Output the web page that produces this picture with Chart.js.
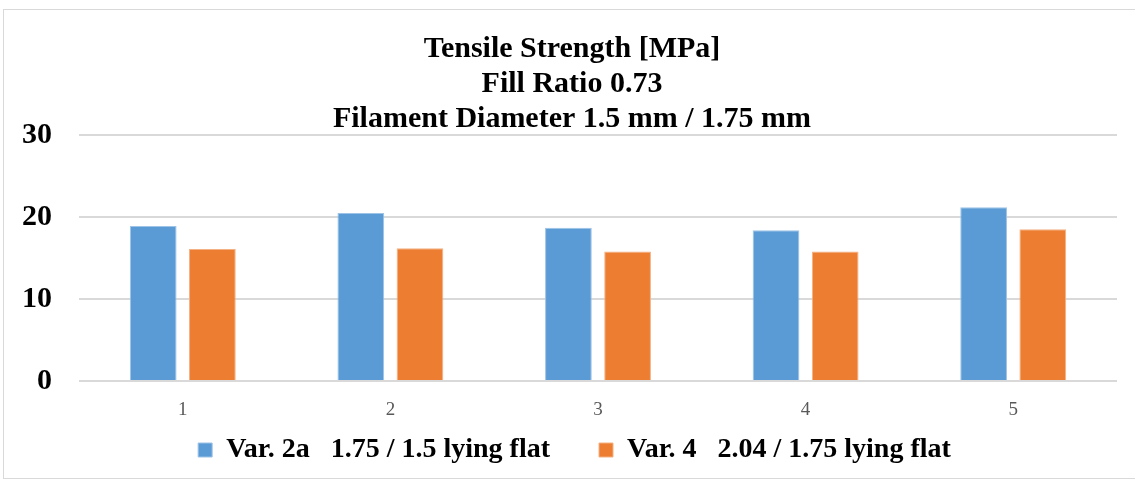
<!DOCTYPE html>
<html>
<head>
<meta charset="utf-8">
<script src="https://cdn.jsdelivr.net/npm/chart.js@4"></script>
<style>
  html, body { margin: 0; padding: 0; background: #fff; }
  #frame { position: absolute; left: 3px; top: 9px; width: 1140px; height: 470px; border: 1px solid #d9d9d9; box-sizing: border-box; }
  #wrap { position: absolute; left: 0; top: 0; width: 1131px; height: 468px; }
</style>
</head>
<body>
<div id="frame"><div id="wrap"><canvas id="tensileChart"></canvas></div></div>
<script>
const categories = ['1', '2', '3', '4', '5'];
const var2aValues = [18.9, 20.5, 18.7, 18.4, 21.2];
const var4Values = [16.1, 16.2, 15.8, 15.8, 18.5];
const yTicks = [0, 10, 20, 30];
const titleLines = ['Tensile Strength [MPa]', 'Fill Ratio 0.73', 'Filament Diameter 1.5 mm / 1.75 mm'];

const serif = "'Liberation Serif', 'Times New Roman', serif";

// title and legend sit centred over the plot area in the original, not the whole canvas
const centreOverPlot = {
  id: 'centreOverPlot',
  afterLayout(chart) {
    chart.legend.left += 28;
    chart.titleBlock.left += 23;
  }
};

new Chart(document.getElementById('tensileChart'), {
  type: 'bar',
  data: {
    labels: categories,
    datasets: [{
      label: 'Var. 2a   1.75 / 1.5 lying flat',
      data: var2aValues,
      backgroundColor: '#5b9bd5',
      borderColor: '#9dc3e6',
      borderWidth: 1,
      barPercentage: 0.79,
      categoryPercentage: 0.57
    }, {
      label: 'Var. 4   2.04 / 1.75 lying flat',
      data: var4Values,
      backgroundColor: '#ed7d31',
      borderColor: '#f4b183',
      borderWidth: 1,
      barPercentage: 0.79,
      categoryPercentage: 0.57
    }]
  },
  plugins: [centreOverPlot],
  options: {
    responsive: true,
    maintainAspectRatio: false,
    animation: false,
    layout: {padding: {left: 0, right: 18, top: 0, bottom: 4}},
    plugins: {
      title: {
        display: true,
        text: titleLines,
        color: '#000',
        font: {family: serif, size: 30, weight: 'bold', lineHeight: 1.167},
        padding: {top: 22, bottom: -2}
      },
      legend: {
        position: 'bottom',
        labels: {
          color: '#000',
          font: {family: serif, size: 28, weight: 'bold'},
          boxWidth: 14,
          boxHeight: 14,
          padding: 14,
          generateLabels: chart => {
            const items = Chart.defaults.plugins.legend.labels.generateLabels(chart);
            // extra room between the two entries, like the original
            items[0].text += '     ';
            return items;
          }
        }
      },
      tooltip: {enabled: false}
    },
    scales: {
      x: {
        afterFit: axis => { axis.height = 41; },
        grid: {display: false, drawTicks: false},
        border: {display: false},
        ticks: {color: '#595959', font: {family: serif, size: 19}, padding: 18}
      },
      y: {
        min: 0,
        max: 30,
        afterBuildTicks: axis => { axis.ticks = yTicks.map(v => ({value: v})); },
        afterFit: axis => { axis.width = 75; },
        grid: {color: '#d9d9d9', lineWidth: 2, drawTicks: false},
        border: {display: false},
        ticks: {color: '#000', font: {family: serif, size: 30, weight: 'bold'}, padding: 27}
      }
    }
  }
});
</script>
</body>
</html>
